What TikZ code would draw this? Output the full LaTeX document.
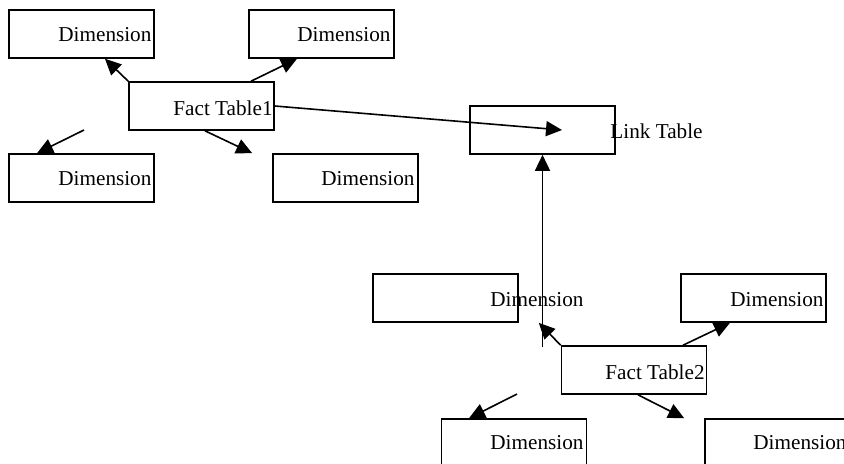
\documentclass[tikz,border=0pt]{standalone}
\usepackage{fontspec}
\setmainfont{Liberation Serif}
\usetikzlibrary{arrows.meta,calc}

\begin{document}
\begin{tikzpicture}[x=0.5pt,y=-0.5pt,
        table/.style={draw, line width=0.8pt, minimum width=72.5pt, minimum height=24pt, inner sep=0pt},
        txt/.style={anchor=west, inner sep=0pt, font=\fontsize{10.6}{12}\selectfont},
        link/.style={line width=0.8pt, -{Triangle[length=8pt,width=7.5pt]}}]
        \useasboundingbox (0,0) rectangle (844,463);

        % Draw the tables around Fact Table1
        \node[table] (dimA) at (81.5,34) {};
        \node[table] (dimB) at (321.5,34) {};
        \node[table] (fact1) at (201.5,106) {};
        \node[table] (dimC) at (81.5,178) {};
        \node[table] (dimD) at (345.5,178) {};

        % Draw the link table
        \node[table] (linktab) at (542.5,130) {};

        % Draw the tables around Fact Table2
        \node[table] (dimE) at (445.5,298) {};
        \node[table] (dimF) at (753.5,298) {};
        \node[table] (fact2) at (634,370) {};
        \node[table] (dimG) at (514,443) {};
        \node[table] (dimH) at (777.5,443) {};

        % Label the tables
        \node[txt] (tA) at (58,35) {Dimension};
        \node[txt] (tB) at (297,35) {Dimension};
        \node[txt] (tF1) at (173,108) {Fact Table1};
        \node[txt] (tC) at (58,179) {Dimension};
        \node[txt] (tD) at (321,179) {Dimension};
        \node[txt] (tL) at (610,131) {Link Table};
        \node[txt] (tE) at (490,300) {Dimension};
        \node[txt] (tF) at (730,300) {Dimension};
        \node[txt] (tF2) at (605,372) {Fact Table2};
        \node[txt] (tG) at (490,443) {Dimension};
        \node[txt] (tH) at (753,443) {Dimension};

        % Loose ends of some arrows
        \coordinate (endC) at (84,130);
        \coordinate (endL) at (542.5,347);
        \coordinate (endG) at (517,394);

        % Arrows of Fact Table1
        \draw[link] (fact1.north west) -- ($(dimA.south)+(23.5,0)$);
        \draw[link] ($(fact1.north)+(49.5,0)$) -- ($(dimB.south)+(-24.5,0)$);
        \draw[link] (endC) -- ($(dimC.north)+(-44.5,0)$);
        \draw[link] ($(fact1.south)+(3.5,0)$) -- ($(dimD.north west)+(-20,0)$);
        \draw[link] (fact1.east) -- ($(linktab.center)+(19.5,0)$);

        % Arrows of Fact Table2
        \draw[link] (endL) -- (linktab.south);
        \draw[link] (fact2.north west) -- ($(dimE.south east)+(20,0)$);
        \draw[link] ($(fact2.north)+(49,0)$) -- ($(dimF.south)+(-23.5,0)$);
        \draw[link] (endG) -- ($(dimG.north)+(-45,0)$);
        \draw[link] ($(fact2.south)+(4,0)$) -- ($(dimH.north west)+(-20,0)$);
\end{tikzpicture}
\end{document}
